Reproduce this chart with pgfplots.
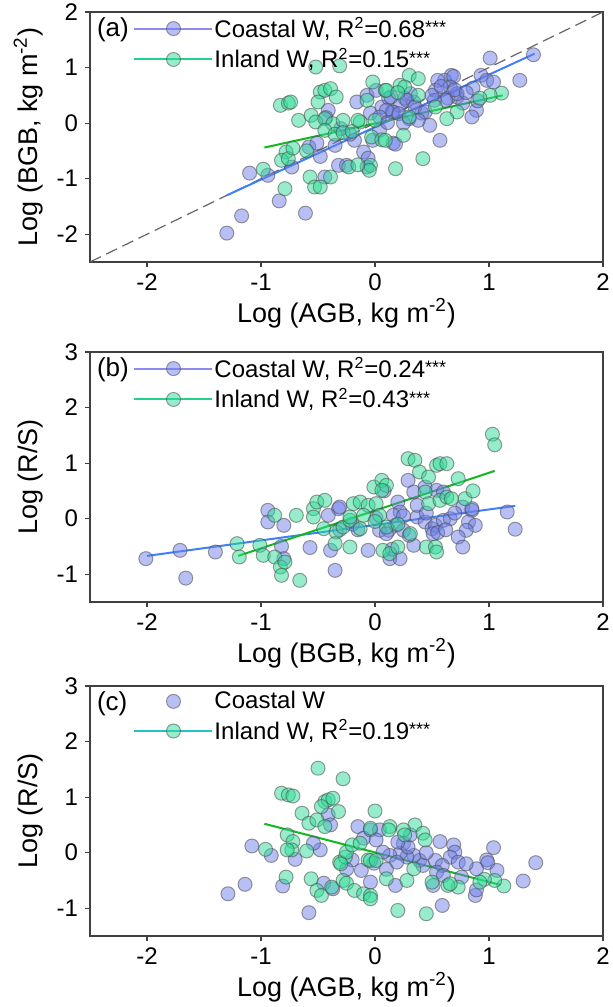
\documentclass[border=0pt]{standalone}
\usepackage{fontspec}
\setmainfont{Liberation Sans}
\usepackage{pgfplots}
\pgfplotsset{compat=1.18}

\definecolor{coastfill}{HTML}{6F80EA}
\definecolor{inlandfill}{HTML}{2FDC98}
\definecolor{coastline}{HTML}{3F7FFF}
\definecolor{inlandline}{HTML}{12B81E}
\definecolor{coastleg}{HTML}{8C8CF0}
\definecolor{inlandleg}{HTML}{22D18C}
\definecolor{inlandlegc}{HTML}{22C4C8}

\newcommand{\stars}{\raisebox{0.3ex}{\fontsize{9}{9}\selectfont ***}}

\pgfplotsset{
  panel/.style={
    width=256.5pt, height=125pt, scale only axis,
    xmin=-2.5, xmax=2, xtick={-2,-1,0,1,2},
    tick align=outside, tick pos=left, major tick length=2.5pt,
    axis line style={draw=black!75, line width=0.7pt},
    every tick/.style={draw=black!75, line width=0.6pt},
    tick label style={font=\fontsize{12}{14}\selectfont},
    /pgf/number format/assume math mode=true,
    label style={font=\fontsize{13.5}{15}\selectfont},
    xlabel style={yshift=3pt},
    legend style={at={(0.084,0.985)}, anchor=north west, draw=none, fill=none,
      inner sep=0pt, row sep=3pt, font=\fontsize{12}{14}\selectfont,
      nodes={inner sep=0.5pt}},
    legend cell align=left,
  },
  legimg/.style={legend image code/.code={%
    \draw[mark repeat=2, mark phase=2, ##1] plot coordinates {(0pt,0pt) (19.5pt,0pt) (39pt,0pt)};}},
  legmark/.style={legend image code/.code={%
    \path[mark repeat=2, mark phase=2, ##1, draw=none] plot coordinates {(0pt,0pt) (19.5pt,0pt) (39pt,0pt)};}},
  coastmk/.style={only marks, mark=*, mark size=3.5pt,
    mark options={fill=coastfill, fill opacity=0.5, draw=black!70, draw opacity=0.55, line width=0.5pt}},
  inlandmk/.style={only marks, mark=*, mark size=3.5pt,
    mark options={fill=inlandfill, fill opacity=0.5, draw=black!70, draw opacity=0.55, line width=0.5pt}},
}

\begin{document}
\begin{tikzpicture}
\useasboundingbox (0,0) rectangle (306pt,-503.5pt);

% ---------------- (a)
\begin{axis}[panel, at={(45pt,-6pt)}, anchor=north west,
  ymin=-2.5, ymax=2, ytick={-2,-1,0,1,2},
  xlabel={Log (AGB, kg m\textsuperscript{-2})},
  ylabel={Log (BGB, kg m\textsuperscript{-2})}]
\addplot[coastmk, forget plot] table {
-1.30 -1.98
-1.17 -1.67
-1.10 -0.90
-0.94 -0.94
-0.84 -1.40
-0.61 -1.62
-0.73 -0.79
-0.58 -0.43
-0.51 -0.36
-0.44 -0.97
-0.32 -0.76
-0.41 0.23
-0.43 0.10
-0.16 0.38
-0.18 -0.31
-0.07 0.50
-0.04 0.18
0.06 0.29
0.12 0.45
0.15 0.20
-0.02 -0.31
-0.10 -0.52
-0.07 -0.79
-0.06 -0.63
-0.25 -0.76
-0.22 -0.20
-0.30 -0.10
1.39 1.23
1.01 1.17
1.27 0.77
0.67 0.86
0.61 0.77
0.55 0.77
0.93 0.86
0.98 0.77
1.04 0.74
0.86 0.63
0.89 0.23
0.85 0.11
0.72 0.47
0.64 0.45
0.53 0.59
0.77 0.36
0.48 -0.04
0.57 -0.31
0.41 0.18
0.34 0.38
0.26 0.45
0.22 0.32
0.16 0.20
0.10 0.23
0.04 0.11
0.16 -0.36
0.04 -0.13
0.69 0.84
0.66 0.65
0.72 0.53
0.62 0.41
0.52 0.41
0.31 0.53
0.28 0.41
0.35 0.29
0.21 0.17
0.18 -0.38
0.14 0.47
0.01 0.59
0.11 0.01
0.30 0.08
0.44 0.20
0.50 0.50
0.58 0.66
0.70 0.60
0.80 0.55
0.90 0.40
0.38 0.05
0.25 0.00
-0.35 -0.40
-0.48 -0.60
};
\addplot[inlandmk, forget plot] table {
-0.52 1.01
-0.31 1.03
-0.83 0.32
-0.76 0.36
-0.74 0.38
-0.48 0.56
-0.44 0.59
-0.39 0.62
-0.50 0.38
-0.34 0.47
-0.67 0.05
-0.56 0.14
-0.52 0.02
-0.44 0.08
-0.37 -0.01
-0.28 0.05
-0.44 -0.13
-0.35 -0.20
-0.28 -0.17
-0.02 0.74
0.09 0.59
-0.07 0.41
-0.13 0.02
-0.03 -0.25
0.06 -0.30
-0.78 -0.52
-0.82 -0.67
-0.76 -0.64
-0.98 -0.83
-0.79 -1.18
-0.57 -0.97
-0.53 -1.15
-0.48 -1.15
-0.39 -0.97
-0.04 -0.76
-0.05 -0.85
0.18 -0.82
-0.23 -0.79
-0.15 -0.75
0.30 0.86
0.38 0.80
0.22 0.68
0.26 0.65
0.10 0.59
1.11 0.54
1.01 0.50
0.92 0.45
0.72 0.20
0.63 0.08
0.38 0.50
0.30 0.11
0.25 -0.22
0.09 -0.31
0.42 -0.64
0.53 0.29
-0.20 -0.15
-0.60 -0.50
-0.72 -0.45
0.20 0.55
-0.15 0.05
0.00 0.05
};
\addplot[black!60, line width=0.6pt, dash pattern=on 6pt off 3pt, forget plot] coordinates {(-2.5,-2.5) (2,2)};
\addplot[coastline, line width=1pt, forget plot] coordinates {(-1.3,-1.30) (1.4,1.25)};
\addplot[inlandline, line width=1pt, forget plot] coordinates {(-0.97,-0.44) (1.12,0.50)};
\addlegendimage{legimg, coastleg, line width=1pt, mark=*, mark size=3.5pt,
  mark options={fill=coastfill, fill opacity=0.5, draw=black!70, draw opacity=0.55, line width=0.5pt}}
\addlegendentry{Coastal W, R\textsuperscript{2}=0.68\stars}
\addlegendimage{legimg, inlandleg, line width=1pt, mark=*, mark size=3.5pt,
  mark options={fill=inlandfill, fill opacity=0.5, draw=black!70, draw opacity=0.55, line width=0.5pt}}
\addlegendentry{Inland W, R\textsuperscript{2}=0.15\stars}
\node[anchor=west, font=\fontsize{13}{15}\selectfont, inner sep=0pt] at (axis description cs:0.013,0.93) {(a)};
\end{axis}

% ---------------- (b)
\begin{axis}[panel, at={(45pt,-176pt)}, anchor=north west,
  ymin=-1.5, ymax=3, ytick={-1,0,1,2,3},
  xlabel={Log (BGB, kg m\textsuperscript{-2})},
  ylabel={Log (R/S)}]
\addplot[coastmk, forget plot] table {
-2.01 -0.72
-1.71 -0.57
-1.66 -1.07
-1.40 -0.60
-0.94 0.15
-0.94 -0.06
-0.80 -0.12
-0.57 -0.52
-0.35 -0.93
-0.39 -0.57
-0.32 0.18
-0.41 0.06
-0.82 -0.50
-0.80 -0.72
-0.31 0.21
-0.31 -0.20
1.16 0.12
1.23 -0.19
0.29 0.69
0.34 0.48
0.44 0.57
0.54 0.51
0.60 0.48
0.20 0.30
0.22 0.12
0.16 0.06
0.18 -0.12
0.12 -0.21
0.25 -0.21
0.37 0.03
0.44 -0.06
0.50 -0.18
0.53 -0.12
0.60 -0.03
0.66 0.00
0.77 0.21
0.85 0.15
0.82 -0.06
0.88 -0.12
0.80 -0.21
0.73 -0.33
0.77 -0.51
0.34 -0.48
0.13 -0.72
0.22 -0.72
-0.06 -0.57
0.51 -0.27
0.01 0.01
0.04 -0.21
0.10 -0.27
0.37 0.24
0.55 -0.25
0.62 -0.20
0.30 -0.30
0.25 0.05
0.45 0.10
0.08 0.50
0.70 0.10
-0.15 -0.20
-0.20 -0.10
0.15 -0.55
0.85 0.18
};
\addplot[inlandmk, forget plot] table {
-1.21 -0.45
-1.19 -0.69
-1.01 -0.48
-0.98 -0.66
-0.88 0.06
-0.69 0.06
-0.88 -0.69
-0.83 -0.87
-0.79 -0.78
-0.82 -1.02
-0.66 -1.11
-0.54 0.18
-0.51 0.30
-0.44 0.33
-0.54 0.03
-0.45 -0.18
-0.34 -0.24
-0.28 -0.15
-0.22 -0.03
-0.35 -0.45
1.03 1.52
1.05 1.33
0.29 1.08
0.35 1.05
0.54 0.96
0.57 0.99
0.63 0.99
0.39 0.84
0.47 0.75
0.73 0.72
-0.01 0.57
0.06 0.69
0.10 0.60
0.06 0.51
0.44 0.48
0.47 0.27
0.57 0.33
0.63 0.39
0.67 0.36
0.79 0.36
0.86 0.50
-0.19 0.27
-0.13 0.30
-0.06 0.24
0.01 0.27
-0.22 0.03
-0.10 0.06
0.04 0.06
-0.22 -0.51
0.07 -0.57
0.13 -0.63
0.20 -0.51
0.45 -0.51
0.53 -0.51
0.54 -0.60
0.31 -0.27
-0.13 -0.18
0.10 -0.15
0.20 -0.10
0.00 -0.05
};
\addplot[coastline, line width=1pt, forget plot] coordinates {(-2.0,-0.67) (1.23,0.23)};
\addplot[inlandline, line width=1pt, forget plot] coordinates {(-1.2,-0.67) (1.05,0.86)};
\addlegendimage{legimg, coastleg, line width=1pt, mark=*, mark size=3.5pt,
  mark options={fill=coastfill, fill opacity=0.5, draw=black!70, draw opacity=0.55, line width=0.5pt}}
\addlegendentry{Coastal W, R\textsuperscript{2}=0.24\stars}
\addlegendimage{legimg, inlandleg, line width=1pt, mark=*, mark size=3.5pt,
  mark options={fill=inlandfill, fill opacity=0.5, draw=black!70, draw opacity=0.55, line width=0.5pt}}
\addlegendentry{Inland W, R\textsuperscript{2}=0.43\stars}
\node[anchor=west, font=\fontsize{13}{15}\selectfont, inner sep=0pt] at (axis description cs:0.013,0.93) {(b)};
\end{axis}

% ---------------- (c)
\begin{axis}[panel, at={(45pt,-343pt)}, anchor=north west,
  ymin=-1.5, ymax=3, ytick={-1,0,1,2,3},
  xlabel={Log (AGB, kg m\textsuperscript{-2})},
  ylabel={Log (R/S)}]
\addplot[coastmk, forget plot] table {
-1.29 -0.74
-1.14 -0.57
-1.08 0.12
-0.91 -0.05
-0.81 -0.60
-0.70 -0.12
-0.58 -1.08
-0.48 0.05
-0.54 0.17
-0.41 0.68
-0.39 0.50
-0.45 -0.55
-0.37 -0.65
-0.15 0.47
-0.10 0.26
-0.04 0.41
-0.12 -0.32
-0.04 -0.53
-0.20 -0.13
1.41 -0.18
1.30 -0.51
1.04 0.09
0.98 -0.13
0.99 -0.18
1.07 -0.32
0.89 -0.29
0.88 -0.77
0.89 -0.67
0.57 0.20
0.69 0.14
0.70 0.01
0.66 -0.08
0.73 -0.17
0.53 -0.14
0.59 -0.23
0.54 -0.35
0.60 -0.41
0.76 -0.44
0.51 -0.59
0.59 -0.95
0.39 -0.14
0.42 -0.23
0.34 -0.05
0.28 -0.08
0.22 -0.01
0.13 -0.05
0.19 -0.17
0.07 0.01
0.25 0.17
0.29 0.10
0.31 0.32
0.20 0.19
0.04 0.41
0.01 0.23
-0.01 -0.19
0.18 -0.59
0.45 0.00
0.10 -0.30
-0.25 -0.30
0.80 -0.20
};
\addplot[inlandmk, forget plot] table {
-0.82 1.07
-0.76 1.04
-0.72 1.02
-0.50 1.52
-0.28 1.33
-0.44 0.92
-0.41 0.95
-0.37 0.98
-0.47 0.83
-0.32 0.74
-0.64 0.71
-0.58 0.53
-0.51 0.59
-0.44 0.47
-0.77 0.32
-0.72 0.20
-0.73 0.05
-0.77 0.05
-0.60 0.03
-0.96 0.06
-0.78 -0.44
-0.56 -0.47
-0.51 -0.68
-0.47 -0.77
-0.38 -0.62
-0.28 -0.50
-0.25 -0.55
-0.31 -0.17
-0.26 -0.08
-0.25 0.01
-0.20 0.14
-0.18 -0.68
-0.10 -0.74
-0.04 -0.77
-0.04 -0.83
0.00 0.75
-0.06 -0.13
-0.13 0.17
1.13 -0.60
1.05 -0.50
0.96 -0.48
0.92 -0.53
0.73 -0.62
0.64 -0.59
0.50 -0.53
0.45 -1.10
0.20 -1.04
0.28 -0.50
0.10 -0.47
0.35 0.50
0.42 0.35
0.44 0.23
0.25 0.41
0.26 0.32
0.13 0.47
0.12 0.41
-0.04 0.44
-0.04 -0.14
0.01 -0.14
0.34 -0.29
0.66 -0.56
-0.30 -0.20
};
\addplot[inlandline, line width=1pt, forget plot] coordinates {(-0.97,0.52) (1.10,-0.58)};
\addlegendimage{legmark, mark=*, mark size=3.5pt,
  mark options={fill=coastfill, fill opacity=0.5, draw=black!70, draw opacity=0.55, line width=0.5pt}}
\addlegendentry{Coastal W}
\addlegendimage{legimg, inlandlegc, line width=1pt, mark=*, mark size=3.5pt,
  mark options={fill=inlandfill, fill opacity=0.5, draw=black!70, draw opacity=0.55, line width=0.5pt}}
\addlegendentry{Inland W, R\textsuperscript{2}=0.19\stars}
\node[anchor=west, font=\fontsize{13}{15}\selectfont, inner sep=0pt] at (axis description cs:0.013,0.93) {(c)};
\end{axis}
\end{tikzpicture}
\end{document}
